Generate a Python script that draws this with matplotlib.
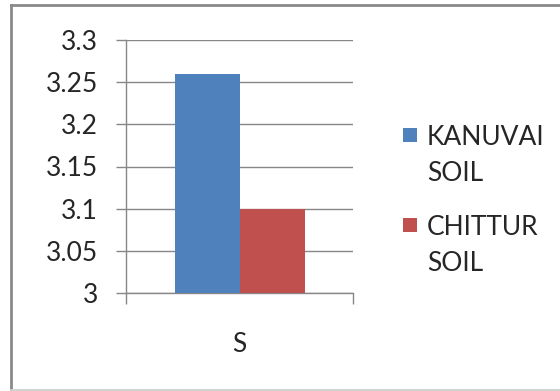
import matplotlib
matplotlib.use("Agg")
import matplotlib.pyplot as plt
from matplotlib.patches import Rectangle
from matplotlib.lines import Line2D

categories = ["S"]
series_names = ["KANUVAI\nSOIL", "CHITTUR\nSOIL"]
kanuvai = [3.26]
chittur = [3.10]
colors = ["#4F81BD", "#C0504D"]
yticks = [3.0, 3.05, 3.1, 3.15, 3.2, 3.25, 3.3]
ytick_labels = ["3", "3.05", "3.1", "3.15", "3.2", "3.25", "3.3"]

plt.rcParams['font.family'] = ['Lato', 'DejaVu Sans']
FS = 19
TXT = "#262626"

W, H = 560, 391
fig = plt.figure(figsize=(W / 100, H / 100), dpi=100)
ax = fig.add_axes([126 / W, 1 - 293 / H, (353 - 126) / W, (293 - 40) / H])

bw = 65 / 227
x0 = 0
ax.bar(x0 - bw / 2, kanuvai[0], width=bw, bottom=0, color=colors[0], zorder=3)
ax.bar(x0 + bw / 2, chittur[0], width=bw, bottom=0, color=colors[1], zorder=3)

ax.set_ylim(3.0, 3.3)
ax.set_xlim(-0.5, 0.5)
ax.set_yticks(yticks)
ax.set_yticklabels(ytick_labels)
ax.yaxis.grid(True, color="#878787", linewidth=1.0, zorder=0)
ax.set_axisbelow(True)

for s in ["top", "right"]:
    ax.spines[s].set_visible(False)
for s in ["left", "bottom"]:
    ax.spines[s].set_color("#878787")
    ax.spines[s].set_linewidth(1.0)

ax.tick_params(axis="y", direction="out", length=7.2, width=1.0, color="#878787",
               pad=13, labelsize=FS, labelcolor=TXT)
ax.set_xticks([-0.5, 0.5])
ax.set_xticklabels(["", ""])
ax.tick_params(axis="x", which="major", direction="out", length=8, width=1.0, color="#878787")
ax.set_xticks([x0], minor=True)
ax.set_xticklabels(categories, minor=True)
ax.tick_params(axis="x", which="minor", length=0, pad=28, labelsize=FS, labelcolor=TXT)

# legend (drawn in figure pixel coordinates)
def fx(px):
    return px / W

def fy(py):
    return 1 - py / H

sq_top = [128, 218]
base_first = [145, 235]
line_gap = 36
for name, c, st, b in zip(series_names, colors, sq_top, base_first):
    fig.add_artist(Rectangle((fx(403), fy(st + 14)), 14 / W, 14 / H,
                             transform=fig.transFigure, facecolor=c, edgecolor="none"))
    for i, line in enumerate(name.split("\n")):
        fig.text(fx(427), fy(b + i * line_gap), line, fontsize=FS, color=TXT,
                 ha="left", va="baseline")

# chart border
fig.add_artist(Line2D([fx(11), fx(11)], [fy(5), fy(390)], transform=fig.transFigure,
                      color="#8a8a8a", linewidth=2))
fig.add_artist(Line2D([fx(11), 1.0], [fy(5), fy(5)], transform=fig.transFigure,
                      color="#8a8a8a", linewidth=2))
fig.add_artist(Line2D([fx(11), 1.0], [fy(390), fy(390)], transform=fig.transFigure,
                      color="#d0d0d0", linewidth=2))

fig.savefig("out.png", dpi=100)
